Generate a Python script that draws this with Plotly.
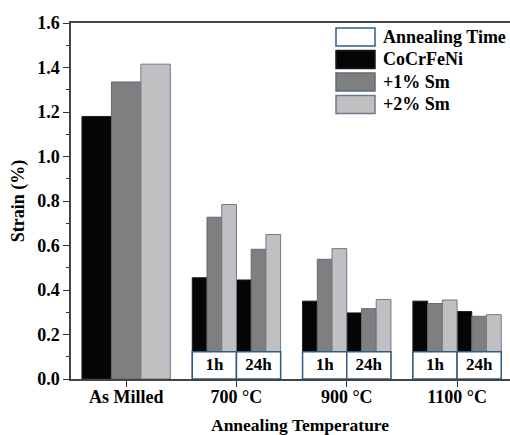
import plotly.graph_objects as go

# ---------------- data ----------------
categories = ["As Milled", "700 °C", "900 °C", "1100 °C"]
times = ["1h", "24h"]
series_names = ["CoCrFeNi", "+1% Sm", "+2% Sm"]
as_milled = [1.18, 1.335, 1.415]
# order: 700-1h, 700-24h, 900-1h, 900-24h, 1100-1h, 1100-24h
cocrfeni = [0.455, 0.445, 0.350, 0.297, 0.350, 0.303]
sm1 = [0.727, 0.583, 0.538, 0.316, 0.339, 0.282]
sm2 = [0.784, 0.649, 0.586, 0.357, 0.355, 0.289]
annealed = [cocrfeni, sm1, sm2]
box_label = "Annealing Time"
box_height = 0.123

# ---------------- style ----------------
FONT = "Liberation Serif"
fills = ["#050505", "#7f7f7f", "#c0c0c3"]
outlines = ["#1a1a1a", "#5d6a7c", "#6d7a8c"]
box_line = "#2b5d8c"
W = 0.267          # as-milled bar width
h = W / 2          # annealed bar width

fig = go.Figure()

for k, name in enumerate(series_names):
    xs = [0 + (k - 1) * W]
    ys = [as_milled[k]]
    ws = [W]
    for i in range(1, len(categories)):
        for t in range(len(times)):
            xs.append(i + (t * 3 + k - 2.5) * h)
            ys.append(annealed[k][(i - 1) * len(times) + t])
            ws.append(h)
    fig.add_trace(go.Bar(x=xs, y=ys, width=ws, name=name,
                         marker=dict(color=fills[k], line=dict(color=outlines[k], width=1)),
                         hoverinfo="skip"))

# annealing-time boxes
bx, by, bt = [], [], []
for i in range(1, len(categories)):
    for t, lab in enumerate(times):
        bx.append(i + (t * 3 - 1.5) * h)
        by.append(box_height)
        bt.append(lab)
fig.add_trace(go.Bar(x=bx, y=by, width=[3 * h] * len(bx), name=box_label,
                     marker=dict(color="white", line=dict(color=box_line, width=1.5)),
                     hoverinfo="skip"))
fig.add_trace(go.Scatter(x=bx, y=[v / 2 for v in by], text=bt, mode="text",
                         textfont=dict(family=FONT, size=17, color="black", weight="bold"),
                         hoverinfo="skip"))

# ---------------- layout ----------------
L, R, T, B = 71, 0, 23, 56
WID, HEI = 510, 435
pw, ph = WID - L - R, HEI - T - B


def px(xp):
    return (xp - L) / pw


def py(yp):
    return (HEI - B - yp) / ph


shapes = []
annotations = []
leg_items = [(box_label, "white", box_line)] + list(zip(series_names, fills, outlines))
row_y = [37, 59.5, 82, 104.5]
for (lab, fc, lc), yc in zip(leg_items, row_y):
    shapes.append(dict(type="rect", xref="paper", yref="paper",
                       x0=px(336), x1=px(375), y0=py(yc + 9), y1=py(yc - 9),
                       fillcolor=fc, line=dict(color=lc, width=1.5)))
    annotations.append(dict(text=lab, xref="paper", yref="paper", x=px(381), y=py(yc),
                            xanchor="left", yanchor="middle", showarrow=False,
                            font=dict(family=FONT, size=18, color="black", weight="bold")))

annotations.append(dict(text="Annealing Temperature", xref="paper", yref="paper",
                        x=px(300), y=py(424.5), xanchor="center", yanchor="middle",
                        showarrow=False,
                        font=dict(family=FONT, size=17.5, color="black", weight="bold")))

fig.update_layout(
    width=WID, height=HEI,
    margin=dict(l=L, r=R, t=T, b=B),
    plot_bgcolor="white", paper_bgcolor="white",
    barmode="overlay", showlegend=False,
    font=dict(family=FONT, size=18, color="black"),
    shapes=shapes, annotations=annotations,
    xaxis=dict(range=[-0.5, 3.48], tickvals=list(range(len(categories))),
               ticktext=categories, ticks="outside", ticklen=6, tickcolor="#333",
               ticklabelstandoff=-5,
               showline=True, linecolor="#444", linewidth=1.5, mirror=True,
               showgrid=False, zeroline=False,
               tickfont=dict(family=FONT, size=18, color="black", weight="bold")),
    yaxis=dict(range=[0, 1.6], dtick=0.2, tickformat=".1f", ticks="outside",
               ticklen=6, tickcolor="#333",
               minor=dict(dtick=0.1, ticks="outside", ticklen=3, tickcolor="#333"),
               showline=True, linecolor="#444", linewidth=1.5,
               showgrid=False, zeroline=False,
               tickfont=dict(family=FONT, size=18, color="black", weight="bold"),
               title=dict(text="Strain (%)", standoff=8,
                          font=dict(family=FONT, size=18, color="black", weight="bold"))),
)

fig.write_html("out.html", config={"displayModeBar": False},
               post_script="document.body.style.margin='0';document.body.style.overflow='hidden';")
